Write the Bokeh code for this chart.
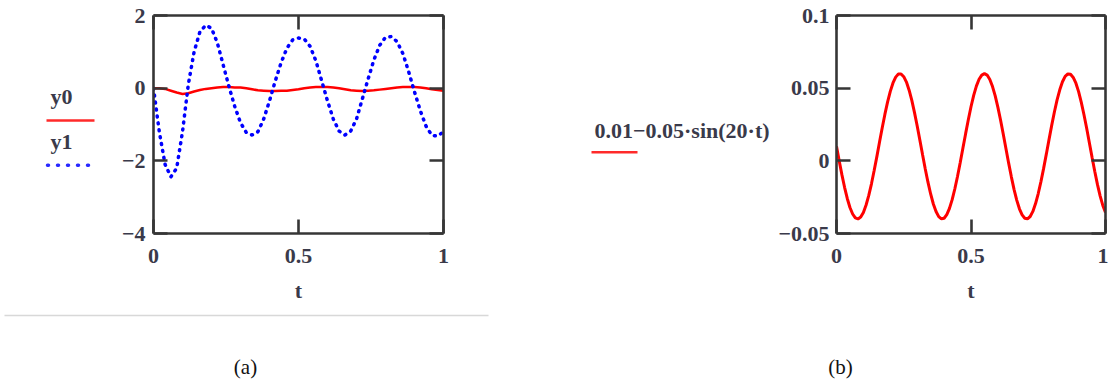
from bokeh.plotting import figure
from bokeh.models import Range1d, LinearAxis, FixedTicker
from bokeh.layouts import row, column
from bokeh.core.properties import value
from bokeh.embed import file_html
from bokeh.resources import INLINE

# ---------------- data ----------------
t = [0.00, 0.02, 0.04, 0.06, 0.08, 0.10, 0.12, 0.14, 0.16, 0.18,
     0.20, 0.22, 0.24, 0.26, 0.28, 0.30, 0.32, 0.34, 0.36, 0.38,
     0.40, 0.42, 0.44, 0.46, 0.48, 0.50, 0.52, 0.54, 0.56, 0.58,
     0.60, 0.62, 0.64, 0.66, 0.68, 0.70, 0.72, 0.74, 0.76, 0.78,
     0.80, 0.82, 0.84, 0.86, 0.88, 0.90, 0.92, 0.94, 0.96, 0.98, 1.00]

y0 = [0.00, 0.00, -0.02, -0.07, -0.12, -0.16, -0.14, -0.09, -0.05, -0.02,
      0.00, 0.02, 0.03, 0.03, 0.02, 0.02, 0.00, -0.03, -0.06, -0.07,
      -0.08, -0.08, -0.07, -0.07, -0.05, -0.03, 0.00, 0.02, 0.03, 0.03,
      0.03, 0.02, 0.00, -0.03, -0.06, -0.07, -0.08, -0.07, -0.06, -0.04,
      -0.02, 0.00, 0.02, 0.03, 0.03, 0.03, 0.02, 0.00, -0.03, -0.05, -0.07]

y1 = [0.00, -1.20, -2.10, -2.44, -2.20, -1.20, 0.10, 1.00, 1.55, 1.73,
      1.65, 1.25, 0.65, 0.05, -0.50, -0.95, -1.22, -1.29, -1.20, -0.85,
      -0.35, 0.20, 0.70, 1.10, 1.33, 1.38, 1.35, 1.15, 0.75, 0.20,
      -0.35, -0.85, -1.18, -1.29, -1.18, -0.85, -0.30, 0.25, 0.78, 1.18,
      1.40, 1.42, 1.28, 0.95, 0.45, -0.10, -0.62, -1.05, -1.30, -1.32, -1.20]

tb = [0.00, 0.01, 0.02, 0.03, 0.04, 0.05, 0.06, 0.07, 0.08, 0.09,
      0.10, 0.11, 0.12, 0.13, 0.14, 0.15, 0.16, 0.17, 0.18, 0.19,
      0.20, 0.21, 0.22, 0.23, 0.24, 0.25, 0.26, 0.27, 0.28, 0.29,
      0.30, 0.31, 0.32, 0.33, 0.34, 0.35, 0.36, 0.37, 0.38, 0.39,
      0.40, 0.41, 0.42, 0.43, 0.44, 0.45, 0.46, 0.47, 0.48, 0.49,
      0.50, 0.51, 0.52, 0.53, 0.54, 0.55, 0.56, 0.57, 0.58, 0.59,
      0.60, 0.61, 0.62, 0.63, 0.64, 0.65, 0.66, 0.67, 0.68, 0.69,
      0.70, 0.71, 0.72, 0.73, 0.74, 0.75, 0.76, 0.77, 0.78, 0.79,
      0.80, 0.81, 0.82, 0.83, 0.84, 0.85, 0.86, 0.87, 0.88, 0.89,
      0.90, 0.91, 0.92, 0.93, 0.94, 0.95, 0.96, 0.97, 0.98, 0.99, 1.00]

yb = [0.0100, 0.0001, -0.0095, -0.0182, -0.0259, -0.0321, -0.0366, -0.0393, -0.0400, -0.0387,
      -0.0355, -0.0304, -0.0238, -0.0158, -0.0067, 0.0029, 0.0129, 0.0228, 0.0321, 0.0406,
      0.0478, 0.0536, 0.0576, 0.0597, 0.0598, 0.0579, 0.0542, 0.0486, 0.0416, 0.0332,
      0.0240, 0.0142, 0.0042, -0.0056, -0.0147, -0.0228, -0.0297, -0.0349, -0.0384, -0.0399,
      -0.0395, -0.0370, -0.0327, -0.0267, -0.0192, -0.0106, -0.0011, 0.0088, 0.0187, 0.0283,
      0.0372, 0.0450, 0.0514, 0.0561, 0.0590, 0.0600, 0.0590, 0.0560, 0.0511, 0.0447,
      0.0368, 0.0279, 0.0183, 0.0083, -0.0016, -0.0110, -0.0196, -0.0270, -0.0330, -0.0372,
      -0.0395, -0.0399, -0.0383, -0.0348, -0.0294, -0.0225, -0.0143, -0.0052, 0.0046, 0.0146,
      0.0244, 0.0336, 0.0419, 0.0489, 0.0544, 0.0581, 0.0598, 0.0596, 0.0574, 0.0534,
      0.0476, 0.0402, 0.0317, 0.0224, 0.0125, 0.0025, -0.0072, -0.0162, -0.0241, -0.0307, -0.0356]

xticks = [0, 0.5, 1]
xtick_labels = ["0", "0.5", "1"]
a_yticks = [2, 0, -2, -4]
a_ytick_labels = ["2", "0", "\u22122", "\u22124"]
b_yticks = [0.1, 0.05, 0, -0.05]
b_ytick_labels = ["0.1", "0.05", "0", "\u22120.05"]

legend_a = ["y0", "y1"]
legend_b = ["0.01\u22120.05\u00b7sin(20\u00b7t)"]
captions = ["(a)", "(b)"]
xlabel = "t"

# ---------------- style ----------------
TOP_H = 305
CAP_H = 76
FT, FB = 15, 235          # frame top / bottom (pixels) shared by the top row
FONT = "Liberation Serif"
TXT = "#3a3a4a"
AX = "#363636"
FS = "22px"


def style_axis(ax, ticks, labels, show_labels, standoff):
    ax.ticker = FixedTicker(ticks=ticks)
    ax.axis_line_color = AX
    ax.axis_line_width = 2.6
    ax.major_tick_line_color = AX
    ax.major_tick_line_width = 2.6
    ax.major_tick_in = 14
    ax.major_tick_out = 0
    ax.minor_tick_line_color = None
    ax.major_label_text_font = FONT
    ax.major_label_text_font_style = "bold"
    ax.major_label_text_color = TXT
    if show_labels:
        ax.major_label_overrides = {k: v for k, v in zip(ticks, labels)}
        ax.major_label_text_font_size = FS
        ax.major_label_standoff = standoff
    else:
        ax.major_label_overrides = {k: "" for k in ticks}
        ax.major_label_text_font_size = "1px"
        ax.major_label_standoff = 0


def make_plot(width, fl, fr, yr, yticks, ylabels, ystand, xstand):
    p = figure(width=width, height=TOP_H, output_backend="svg", toolbar_location=None,
               x_range=Range1d(0, 1), y_range=Range1d(*yr),
               min_border_left=fl, min_border_right=width - fr,
               min_border_top=FT, min_border_bottom=TOP_H - FB)
    p.outline_line_color = None
    p.xgrid.grid_line_color = None
    p.ygrid.grid_line_color = None
    p.background_fill_color = "white"
    p.border_fill_color = "white"
    style_axis(p.xaxis[0], xticks, xtick_labels, True, xstand)
    style_axis(p.yaxis[0], yticks, ylabels, True, ystand)
    ax = p.xaxis[0]
    ax.axis_label = xlabel
    ax.axis_label_text_font = FONT
    ax.axis_label_text_font_style = "bold"
    ax.axis_label_text_font_size = FS
    ax.axis_label_text_color = TXT
    ax.axis_label_standoff = 12
    top = LinearAxis()
    style_axis(top, xticks, xtick_labels, False, 0)
    p.add_layout(top, "above")
    right = LinearAxis()
    style_axis(right, yticks, ylabels, False, 0)
    p.add_layout(right, "right")
    return p


def make_blank(width, height, top=0, bottom=0):
    # pixel-coordinate canvas: data y equals screen y
    p = figure(width=width, height=height, output_backend="svg", toolbar_location=None,
               x_range=Range1d(0, width), y_range=Range1d(height - bottom, top),
               x_axis_location=None, y_axis_location=None,
               min_border=0, min_border_left=0, min_border_right=0,
               min_border_top=top, min_border_bottom=bottom)
    p.outline_line_color = None
    p.xgrid.grid_line_color = None
    p.ygrid.grid_line_color = None
    p.background_fill_color = "white"
    p.border_fill_color = "white"
    return p


def add_text(p, xs, ys, texts, size=FS, bold=True, color=TXT, align="left"):
    p.text(x=xs, y=ys, text=texts, text_font=value(FONT),
           text_font_style="bold" if bold else "normal",
           text_font_size=value(size), text_color=color,
           text_baseline="middle", text_align=align)


# ---------------- panel (a) ----------------
legA = make_blank(110, TOP_H, FT, TOP_H - FB)
add_text(legA, [50, 50], [97, 142], legend_a)
legA.segment(x0=[46], y0=[121], x1=[94], y1=[121], line_color="#ff2a2a", line_width=2.5)
legA.segment(x0=[47], y0=[166], x1=[97], y1=[166], line_color="#2a2aff", line_width=3.5,
             line_dash="1 9", line_cap="round")

pA = make_plot(445, 43, 333, (-4, 2), a_yticks, a_ytick_labels, 8, 15)
pA.line(t, y0, line_color="#ff0000", line_width=2.5)
pA.line(t, y1, line_color="#0000ff", line_width=3.5, line_dash="1 6", line_cap="round")

capA = make_blank(555, CAP_H)
capA.segment(x0=[4], y0=[10], x1=[488], y1=[10], line_color="#d8d8d8", line_width=1.5)
add_text(capA, [245], [61], [captions[0]], size="21px", bold=False, color="#111111", align="center")

# ---------------- panel (b) ----------------
legB = make_blank(220, TOP_H, FT, TOP_H - FB)
add_text(legB, [39], [131], legend_b)
legB.segment(x0=[36], y0=[153], x1=[82], y1=[153], line_color="#ff2a2a", line_width=2.5)

pB = make_plot(333, 54, 330, (-0.05, 0.1), b_yticks, b_ytick_labels, 7, 15)
pB.line(tb, yb, line_color="#ff0000", line_width=3)

capB = make_blank(553, CAP_H)
add_text(capB, [285], [61], [captions[1]], size="21px", bold=False, color="#111111", align="center")

layout = column(row(legA, pA, legB, pB), row(capA, capB))
open("out.html", "w").write(file_html(layout, INLINE))
